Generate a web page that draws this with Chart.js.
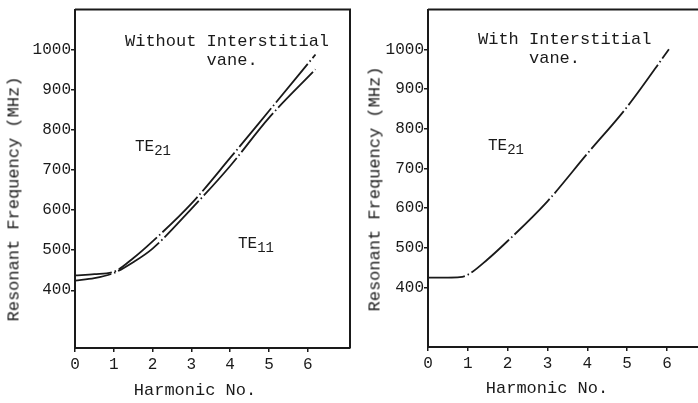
<!DOCTYPE html>
<html>
<head>
<meta charset="utf-8">
<script src="https://cdn.jsdelivr.net/npm/chart.js@4/dist/chart.umd.min.js"></script>
<style>
body{margin:0;background:#fff;width:698px;height:403px;overflow:hidden;position:relative;font-family:"Liberation Mono","DejaVu Sans Mono",monospace;color:#1a1a1a;}
canvas{position:absolute;top:0;}
.txt{position:absolute;font-size:17px;line-height:19px;white-space:pre;}
.te{position:absolute;font-size:16px;white-space:nowrap;}
.te sub{font-size:14px;vertical-align:-4px;}
.ytitle{position:absolute;font-size:17px;white-space:nowrap;transform:translate(-50%,-50%) rotate(-90deg);}
.xtitle{position:absolute;font-size:17px;white-space:nowrap;transform:translate(-50%,-50%);}
</style>
</head>
<body>
<canvas id="chartL" width="360" height="403" style="left:0"></canvas>
<canvas id="chartR" width="338" height="403" style="left:360px"></canvas>

<div class="txt" style="left:125px;top:32px">Without Interstitial
        vane.</div>
<div class="txt" style="left:478px;top:30px">With Interstitial
     vane.</div>
<div class="te" style="left:135px;top:138px">TE<sub>21</sub></div>
<div class="te" style="left:238px;top:235px">TE<sub>11</sub></div>
<div class="te" style="left:488px;top:137px">TE<sub>21</sub></div>
<div class="ytitle" style="left:14px;top:199px">Resonant Frequency (MHz)</div>
<div class="ytitle" style="left:375px;top:189px">Resonant Frequency (MHz)</div>
<div class="xtitle" style="left:195px;top:390px">Harmonic No.</div>
<div class="xtitle" style="left:547px;top:388px">Harmonic No.</div>

<script>
// 刻度
var xTicks = [0, 1, 2, 3, 4, 5, 6];
var yTicks = [400, 500, 600, 700, 800, 900, 1000];

// 左图 without interstitial vane（两条曲线）
var harmL = [0, 0.5, 1, 1.5, 2, 3, 4, 5, 6.2];
var upperL = [437, 440, 446, 480, 522, 616, 730, 847, 988];
var lowerL = [424, 430, 443, 470, 504, 603, 710, 830, 951];

// 右图 with interstitial vane
var harmR = [0, 0.5, 0.8, 1, 1.5, 2, 3, 4, 5, 6.05];
var freqR = [425, 425, 426, 432, 471, 517, 617, 737, 855, 1000];

var ink = '#1a1a1a';
var monoTick = {family: '"Liberation Mono", monospace', size: 16};

function pts(xs, ys){
    return xs.map(function(x, i){ return {x: x, y: ys[i]}; });
}

function curve(data){
    return {
        data: data,
        borderColor: ink,
        borderWidth: 1.8,
        borderDash: [50, 3, 1.5, 3],
        borderDashOffset: 13,
        pointRadius: 0,
        cubicInterpolationMode: 'monotone',
        fill: false
    };
}

// 外框
var framePlugin = {
    id: 'frame',
    afterDraw: function(chart, args, opts){
        var a = chart.chartArea, c = chart.ctx;
        c.save();
        c.strokeStyle = ink;
        c.lineWidth = 2;
        c.beginPath();
        c.moveTo(a.left, a.top);
        c.lineTo(a.right, a.top);
        if(opts.right){
            c.lineTo(a.right, a.bottom);
        }
        c.stroke();
        c.restore();
    }
};

function makeChart(id, datasets, cfg){
    return new Chart(document.getElementById(id), {
        type: 'line',
        data: {datasets: datasets},
        plugins: [framePlugin],
        options: {
            responsive: false,
            animation: false,
            layout: {padding: {top: 8, right: cfg.padRight, left: 0, bottom: 0}},
            plugins: {legend: {display: false}, tooltip: {enabled: false}, frame: {right: cfg.frameRight}},
            scales: {
                x: {
                    type: 'linear',
                    min: 0,
                    max: cfg.xMax,
                    afterBuildTicks: function(s){ s.ticks = xTicks.map(function(v){ return {value: v}; }); },
                    afterFit: function(s){ s.height = cfg.xHeight; },
                    grid: {drawOnChartArea: false, tickLength: 4, color: ink, lineWidth: 1.5},
                    border: {color: ink, width: 2},
                    ticks: {color: ink, font: monoTick, padding: 3, maxRotation: 0,
                        callback: function(v){ return String(v); }}
                },
                y: {
                    min: cfg.yMin,
                    max: 1100,
                    afterBuildTicks: function(s){ s.ticks = yTicks.map(function(v){ return {value: v}; }); },
                    afterFit: function(s){ s.width = cfg.yWidth; },
                    grid: {drawOnChartArea: false, tickLength: 4, color: ink, lineWidth: 1.5},
                    border: {color: ink, width: 2},
                    ticks: {color: ink, font: monoTick, padding: 0,
                        callback: function(v){ return String(v); }}
                }
            }
        }
    });
}

makeChart('chartL', [curve(pts(harmL, upperL)), curve(pts(harmL, lowerL))],
    {xMax: 7.09, yMin: 256, yWidth: 75, xHeight: 55, padRight: 10, frameRight: true});

makeChart('chartR', [curve(pts(harmR, freqR))],
    {xMax: 6.78, yMin: 250, yWidth: 68, xHeight: 56, padRight: 0, frameRight: false});
</script>
</body>
</html>
